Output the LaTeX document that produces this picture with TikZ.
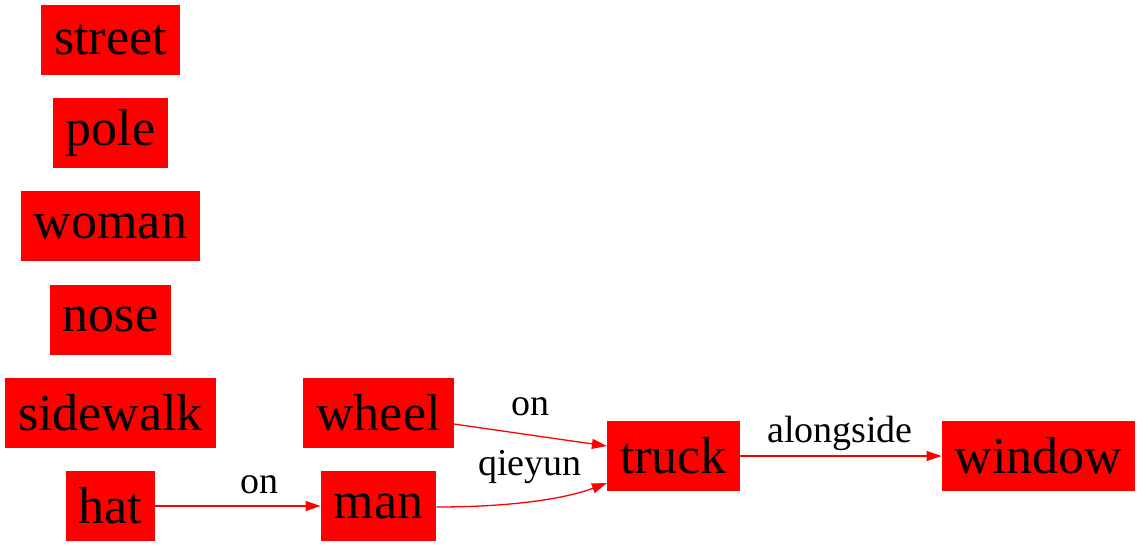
\documentclass[tikz,border=0pt]{standalone}
\usepackage{fontspec}
\setmainfont{Liberation Serif}
\usetikzlibrary{arrows.meta}
\tikzset{
  obj/.style={fill=red, draw=none, inner xsep=13pt, inner ysep=0pt, minimum height=70pt, font=\fontsize{52}{52}\selectfont},
  rel/.style={draw=red, line width=1.3pt, -{Triangle[length=15pt,width=10pt]}},
  lbl/.style={font=\fontsize{38}{38}\selectfont, inner sep=0pt}
}
\begin{document}
\begin{tikzpicture}[x=1pt,y=-1pt]
\useasboundingbox (0,0) rectangle (1141,547);
\node[obj] (street) at (110.5,40) {street};
\node[obj] (pole) at (110.5,133) {pole};
\node[obj] (woman) at (110.5,226) {woman};
\node[obj] (nose) at (110.5,319.5) {nose};
\node[obj] (sidewalk) at (110.5,412.5) {sidewalk};
\node[obj] (hat) at (110.5,506) {hat};
\node[obj] (wheel) at (378.5,412.5) {wheel};
\node[obj] (man) at (378.5,506) {man};
\node[obj] (truck) at (673.5,456) {truck};
\node[obj] (window) at (1038.5,456) {window};
\draw[rel] (hat.east) -- (man.west);
\draw[rel] (wheel.east |- 0,424) -- (truck.west |- 0,446);
\draw[rel] (man.east |- 0,507) .. controls (520,507) and (570,497) .. (truck.west |- 0,483);
\draw[rel] (truck.east) -- (window.west);
\node[lbl] (l1) at (259,485) {on};
\node[lbl] (l2) at (530,407) {on};
\node[lbl] (l3) at (530,467) {qieyun};
\node[lbl] (l4) at (840,433) {alongside};
\end{tikzpicture}
\end{document}
